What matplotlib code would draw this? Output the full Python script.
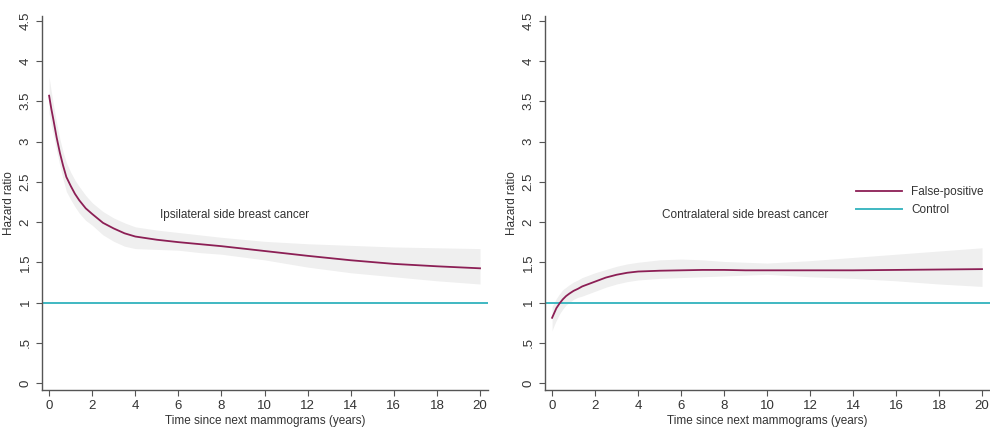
import matplotlib
matplotlib.use('Agg')
import matplotlib.pyplot as plt

plt.rcParams['font.family'] = ['Liberation Sans', 'DejaVu Sans']

# data
years = [0, 0.1, 0.2, 0.35, 0.5, 0.65, 0.8, 1.0, 1.2, 1.4, 1.7, 2, 2.5, 3, 3.5, 4,
         5, 6, 7, 8, 9, 10, 12, 14, 16, 18, 20]

ipsi_hr = [3.57, 3.41, 3.27, 3.05, 2.86, 2.70, 2.56, 2.45, 2.35, 2.27, 2.17, 2.10, 1.99, 1.92, 1.86, 1.82,
           1.78, 1.75, 1.725, 1.70, 1.67, 1.64, 1.58, 1.525, 1.48, 1.45, 1.425]
ipsi_hi = [3.80, 3.62, 3.46, 3.23, 3.03, 2.87, 2.74, 2.62, 2.52, 2.44, 2.33, 2.24, 2.13, 2.05, 1.99, 1.94,
           1.90, 1.87, 1.84, 1.81, 1.785, 1.76, 1.73, 1.71, 1.69, 1.68, 1.67]
ipsi_lo = [3.35, 3.20, 3.08, 2.88, 2.70, 2.53, 2.38, 2.28, 2.19, 2.11, 2.02, 1.96, 1.84, 1.76, 1.70, 1.67,
           1.66, 1.65, 1.62, 1.60, 1.565, 1.53, 1.44, 1.37, 1.32, 1.27, 1.23]

contra_hr = [0.81, 0.87, 0.93, 0.99, 1.04, 1.08, 1.11, 1.145, 1.17, 1.20, 1.23, 1.26, 1.31, 1.345, 1.37, 1.385,
             1.395, 1.40, 1.405, 1.405, 1.40, 1.40, 1.40, 1.40, 1.405, 1.41, 1.415]
contra_hi = [0.95, 1.00, 1.05, 1.11, 1.16, 1.19, 1.22, 1.255, 1.28, 1.31, 1.34, 1.37, 1.41, 1.45, 1.48, 1.50,
             1.53, 1.54, 1.53, 1.51, 1.50, 1.49, 1.52, 1.56, 1.60, 1.64, 1.68]
contra_lo = [0.65, 0.72, 0.78, 0.86, 0.92, 0.97, 1.00, 1.04, 1.065, 1.08, 1.11, 1.14, 1.19, 1.23, 1.26, 1.28,
             1.30, 1.31, 1.32, 1.33, 1.34, 1.35, 1.32, 1.30, 1.27, 1.23, 1.20]

control_hr = 1.0
panel_titles = ['Ipsilateral side breast cancer', 'Contralateral side breast cancer']
y_ticks = [0, 0.5, 1, 1.5, 2, 2.5, 3, 3.5, 4, 4.5]
y_tick_labels = ['0', '.5', '1', '1.5', '2', '2.5', '3', '3.5', '4', '4.5']
x_ticks = list(range(0, 21, 2))

fp_color = '#8c1f55'
ctrl_color = '#3fb8c2'
band_color = '#efefef'
axis_color = '#555555'
text_color = '#333333'

fig = plt.figure(figsize=(9.9, 4.28), dpi=100)
ax1 = fig.add_axes([42/990, 38/428, 446/990, 374/428])
ax2 = fig.add_axes([545/990, 38/428, 445/990, 374/428])

panels = [(ax1, ipsi_hr, ipsi_lo, ipsi_hi, panel_titles[0], 8.6),
          (ax2, contra_hr, contra_lo, contra_hi, panel_titles[1], 9.0)]

for ax, hr, lo, hi, title, tx in panels:
    ax.fill_between(years, lo, hi, color=band_color, lw=0, zorder=1)
    ax.axhline(control_hr, color=ctrl_color, lw=1.4, zorder=2, label='Control')
    ax.plot(years, hr, color=fp_color, lw=1.3, zorder=3, label='False-positive')
    ax.text(tx, 2.09, title, ha='center', va='center', fontsize=8.5, color=text_color)

    ax.set_xlim(-0.33, 20.37)
    ax.set_ylim(-0.087, 4.56)
    ax.set_yticks(y_ticks)
    ax.set_yticklabels(y_tick_labels, rotation=90, va='center')
    ax.set_xticks(x_ticks)
    ax.tick_params(colors=axis_color, labelcolor=text_color, labelsize=9.5, length=4, width=0.8)
    for side in ['top', 'right']:
        ax.spines[side].set_visible(False)
    for side in ['left', 'bottom']:
        ax.spines[side].set_color(axis_color)
        ax.spines[side].set_linewidth(1.0)
    ax.set_xlabel('Time since next mammograms (years)', fontsize=8.5, color=text_color, labelpad=2)
    ax.set_ylabel('Hazard ratio', fontsize=8.5, color=text_color, labelpad=3)

handles, labels = ax2.get_legend_handles_labels()
ax2.legend(handles[::-1], labels[::-1], loc='center left', bbox_to_anchor=(300/445, 0.505),
           frameon=False, fontsize=8.5, handlelength=3.9, handletextpad=0.8,
           labelspacing=0.5, labelcolor=text_color)

fig.savefig('out.png', dpi=100, facecolor='white')
